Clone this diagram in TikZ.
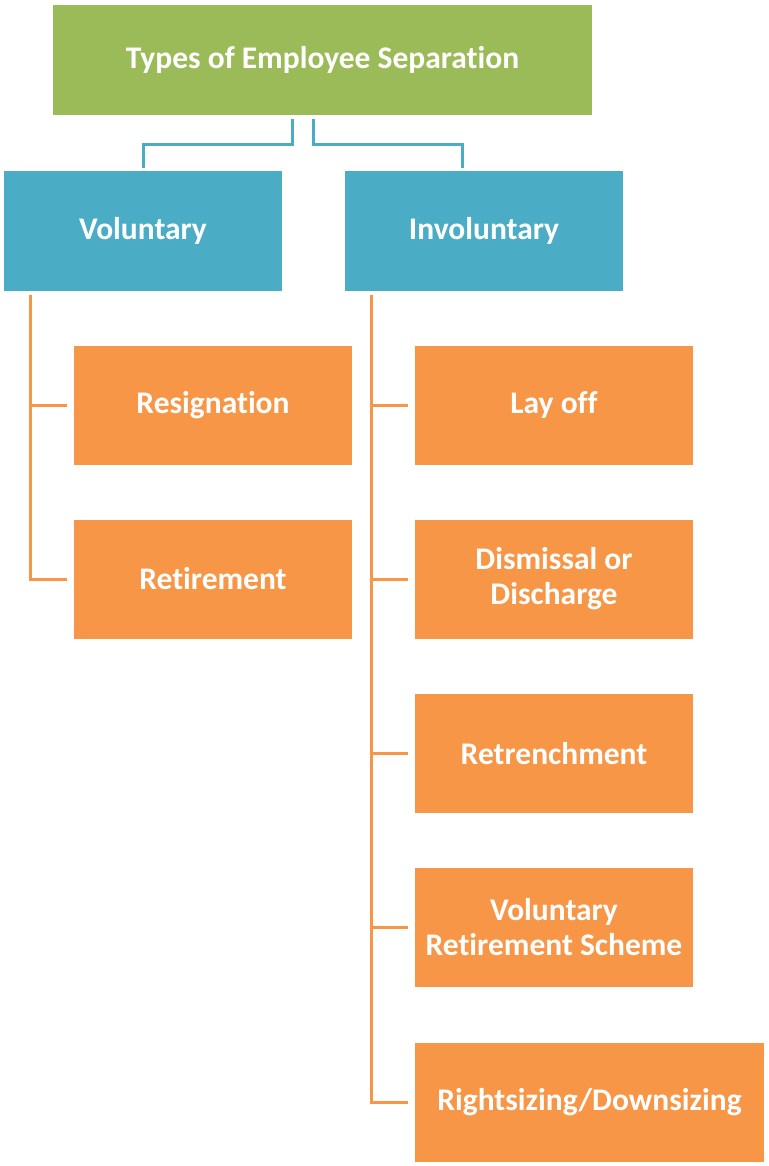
\documentclass[tikz,border=0pt]{standalone}
\usepackage{fontspec}
\setmainfont[Ligatures=NoCommon]{Carlito}
\definecolor{sepgreen}{HTML}{9BBB59}
\definecolor{sepblue}{HTML}{4BACC6}
\definecolor{seporange}{HTML}{F79646}
\tikzset{
  box/.style={inner sep=0pt, text=white, align=center,
    font=\fontsize{31.5}{35}\selectfont\bfseries},
  greenbox/.style={box, fill=sepgreen, minimum width=539pt, minimum height=110pt},
  bluebox/.style={box, fill=sepblue, minimum width=278pt, minimum height=119pt},
  orangebox/.style={box, fill=seporange, minimum width=278pt, minimum height=119pt},
  blueline/.style={draw=sepblue, line width=3pt},
  orangeline/.style={draw=seporange, line width=3pt}
}
\begin{document}
\begin{tikzpicture}[x=1pt,y=-1pt]
\useasboundingbox (0,0) rectangle (768,1166);
% head
\node[greenbox] (types) at (322.5,60) {Types of Employee Separation};
\node[bluebox] (vol) at (143,231) {Voluntary};
\node[bluebox] (invol) at (484,231) {Involuntary};
% voluntary
\node[orangebox] (resign) at (213,405.5) {Resignation};
\node[orangebox] (retire) at (213,579) {Retirement};
% involuntary
\node[orangebox] (layoff) at (554,405.5) {Lay off};
\node[orangebox] (dismiss) at (554,579) {Dismissal or\\Discharge};
\node[orangebox] (retrench) at (554,753.5) {Retrenchment};
\node[orangebox] (vrs) at (554,927.5) {Voluntary\\Retirement Scheme};
\node[orangebox, minimum width=349pt] (rights) at (589.5,1102.5) {Rightsizing/Downsizing};
% connectors
\draw[blueline] ([xshift=-30.5pt,yshift=-4pt]types.south) -- ++(0pt,-25pt) -| ([yshift=3pt]vol.north);
\draw[blueline] ([xshift=-9.5pt,yshift=-4pt]types.south) -- ++(0pt,-25pt) -| ([xshift=-22pt,yshift=3pt]invol.north);
\foreach \leaf in {resign,retire}
  \draw[orangeline] ([xshift=27pt,yshift=-4pt]vol.south west) |- ([xshift=-7pt]\leaf.west);
\foreach \leaf in {layoff,dismiss,retrench,vrs,rights}
  \draw[orangeline] ([xshift=27pt,yshift=-4pt]invol.south west) |- ([xshift=-7pt]\leaf.west);
\end{tikzpicture}
\end{document}
